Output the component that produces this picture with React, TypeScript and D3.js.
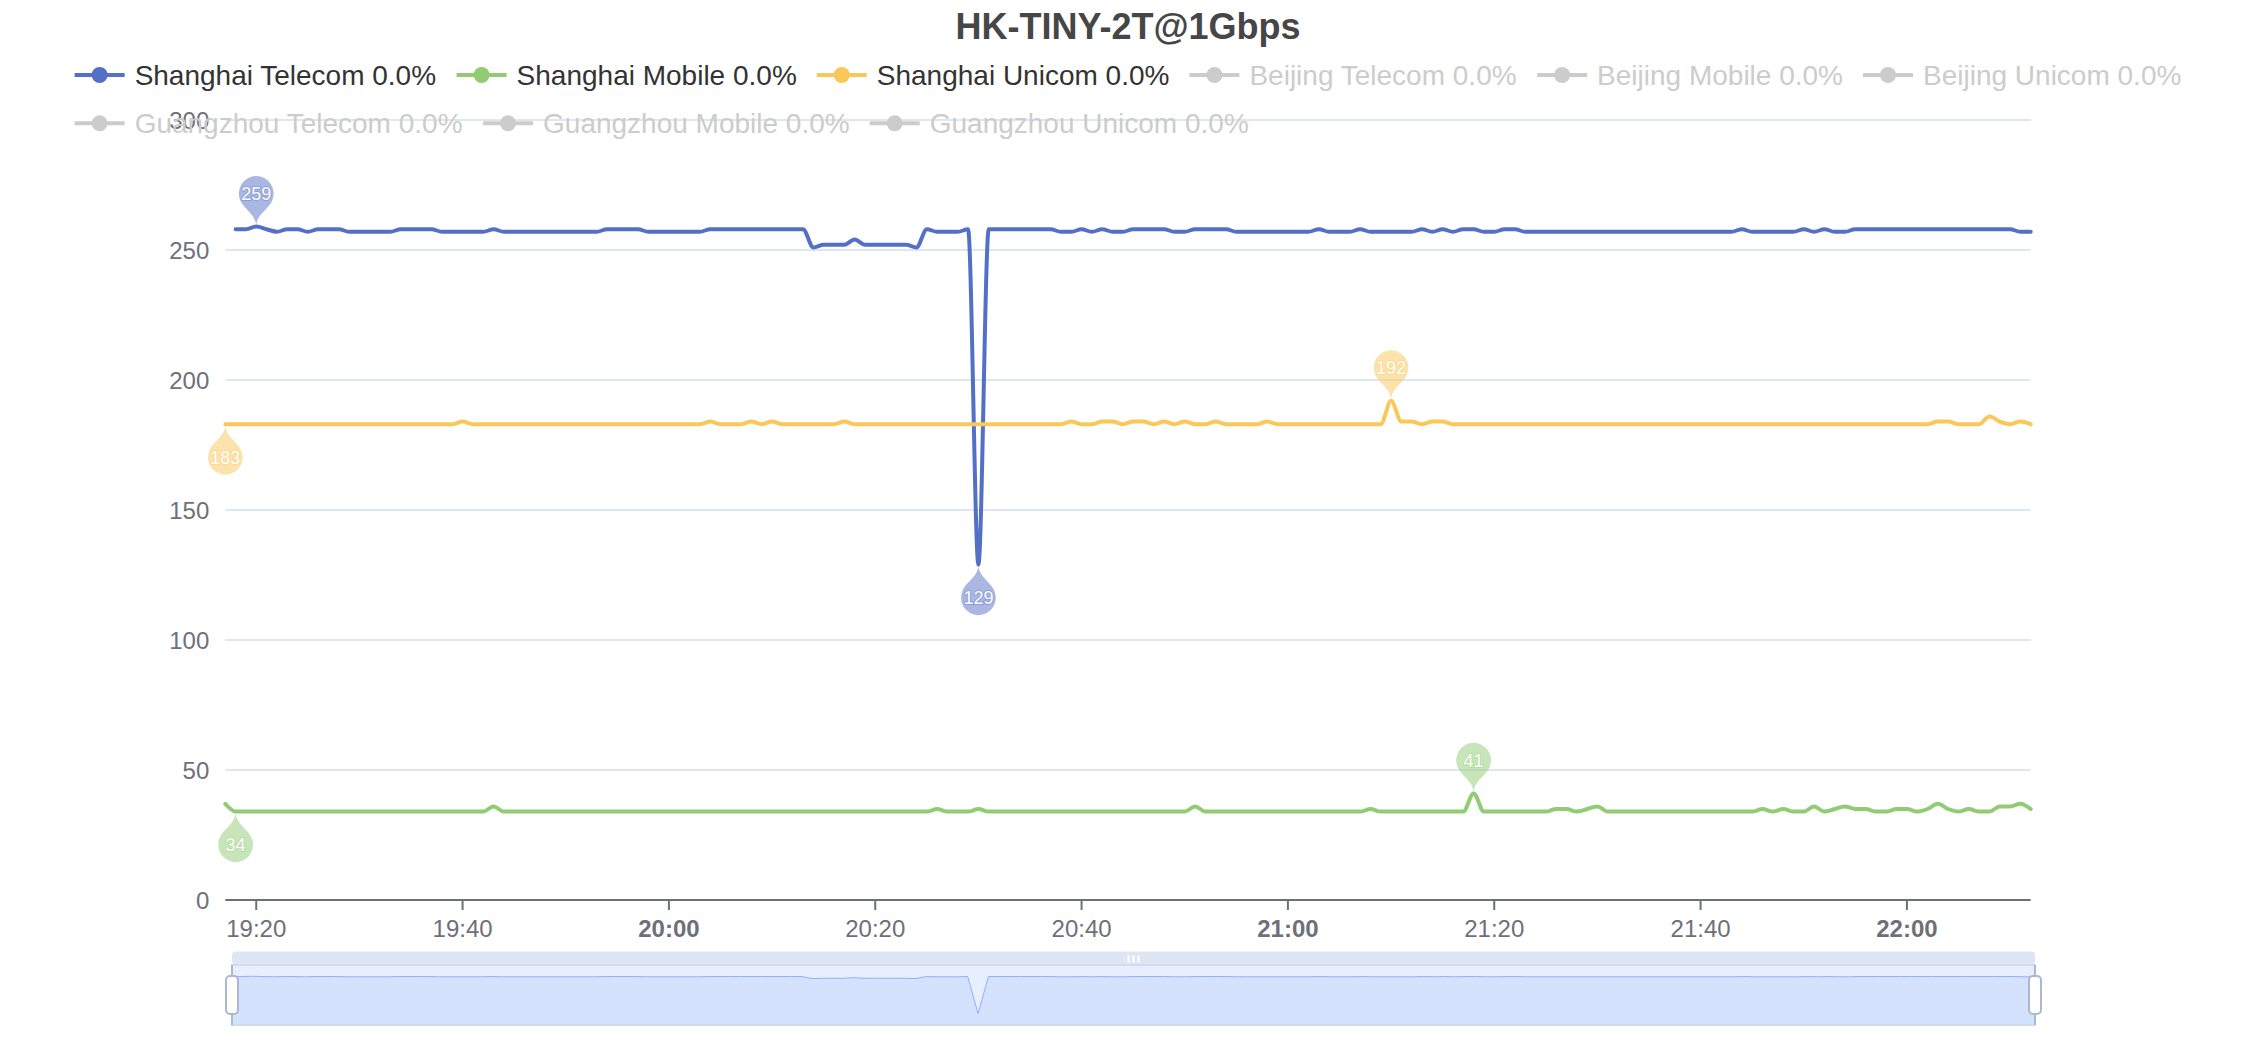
import React, { useMemo } from 'react';
import * as d3 from 'd3';

const TITLE = 'HK-TINY-2T@1Gbps';

const SERIES_NAMES = [
  'Shanghai Telecom', 'Shanghai Mobile', 'Shanghai Unicom',
  'Beijing Telecom', 'Beijing Mobile', 'Beijing Unicom',
  'Guangzhou Telecom', 'Guangzhou Mobile', 'Guangzhou Unicom',
];
const SERIES_LOSS = ['0.0%', '0.0%', '0.0%', '0.0%', '0.0%', '0.0%', '0.0%', '0.0%', '0.0%'];
const SERIES_SELECTED = [true, true, true, false, false, false, false, false, false];
const PALETTE = ['#5470c6', '#91cc75', '#fac858'];

// one sample per minute, 19:17 .. 22:12
const START_TIME = '2024-01-01T19:17:00';
const END_TIME = '2024-01-01T22:12:00';

const X_TICKS = ['19:20', '19:40', '20:00', '20:20', '20:40', '21:00', '21:20', '21:40', '22:00'];
const Y_TICKS = [0, 50, 100, 150, 200, 250, 300];

// Shanghai Telecom (ms)
const TELECOM: (number | null)[] = [
  null, 258, 258, 259, 258, 257, 258, 258, 257, 258,
  258, 258, 257, 257, 257, 257, 257, 258, 258, 258,
  258, 257, 257, 257, 257, 257, 258, 257, 257, 257,
  257, 257, 257, 257, 257, 257, 257, 258, 258, 258,
  258, 257, 257, 257, 257, 257, 257, 258, 258, 258,
  258, 258, 258, 258, 258, 258, 258, 251, 252, 252,
  252, 254, 252, 252, 252, 252, 252, 251, 258, 257,
  257, 257, 258, 129, 258, 258, 258, 258, 258, 258,
  258, 257, 257, 258, 257, 258, 257, 257, 258, 258,
  258, 258, 257, 257, 258, 258, 258, 258, 257, 257,
  257, 257, 257, 257, 257, 257, 258, 257, 257, 257,
  258, 257, 257, 257, 257, 257, 258, 257, 258, 257,
  258, 258, 257, 257, 258, 258, 257, 257, 257, 257,
  257, 257, 257, 257, 257, 257, 257, 257, 257, 257,
  257, 257, 257, 257, 257, 257, 257, 258, 257, 257,
  257, 257, 257, 258, 257, 258, 257, 257, 258, 258,
  258, 258, 258, 258, 258, 258, 258, 258, 258, 258,
  258, 258, 258, 258, 257, 257,
];

// Shanghai Mobile (ms)
const MOBILE: (number | null)[] = [
  37, 34, 34, 34, 34, 34, 34, 34, 34, 34,
  34, 34, 34, 34, 34, 34, 34, 34, 34, 34,
  34, 34, 34, 34, 34, 34, 36, 34, 34, 34,
  34, 34, 34, 34, 34, 34, 34, 34, 34, 34,
  34, 34, 34, 34, 34, 34, 34, 34, 34, 34,
  34, 34, 34, 34, 34, 34, 34, 34, 34, 34,
  34, 34, 34, 34, 34, 34, 34, 34, 34, 35,
  34, 34, 34, 35, 34, 34, 34, 34, 34, 34,
  34, 34, 34, 34, 34, 34, 34, 34, 34, 34,
  34, 34, 34, 34, 36, 34, 34, 34, 34, 34,
  34, 34, 34, 34, 34, 34, 34, 34, 34, 34,
  34, 35, 34, 34, 34, 34, 34, 34, 34, 34,
  34, 41, 34, 34, 34, 34, 34, 34, 34, 35,
  35, 34, 35, 36, 34, 34, 34, 34, 34, 34,
  34, 34, 34, 34, 34, 34, 34, 34, 34, 35,
  34, 35, 34, 34, 36, 34, 35, 36, 35, 35,
  34, 34, 35, 35, 34, 35, 37, 35, 34, 35,
  34, 34, 36, 36, 37, 35,
];

// Shanghai Unicom (ms)
const UNICOM: (number | null)[] = [
  183, 183, 183, 183, 183, 183, 183, 183, 183, 183,
  183, 183, 183, 183, 183, 183, 183, 183, 183, 183,
  183, 183, 183, 184, 183, 183, 183, 183, 183, 183,
  183, 183, 183, 183, 183, 183, 183, 183, 183, 183,
  183, 183, 183, 183, 183, 183, 183, 184, 183, 183,
  183, 184, 183, 184, 183, 183, 183, 183, 183, 183,
  184, 183, 183, 183, 183, 183, 183, 183, 183, 183,
  183, 183, 183, 183, 183, 183, 183, 183, 183, 183,
  183, 183, 184, 183, 183, 184, 184, 183, 184, 184,
  183, 184, 183, 184, 183, 183, 184, 183, 183, 183,
  183, 184, 183, 183, 183, 183, 183, 183, 183, 183,
  183, 183, 183, 192, 184, 184, 183, 184, 184, 183,
  183, 183, 183, 183, 183, 183, 183, 183, 183, 183,
  183, 183, 183, 183, 183, 183, 183, 183, 183, 183,
  183, 183, 183, 183, 183, 183, 183, 183, 183, 183,
  183, 183, 183, 183, 183, 183, 183, 183, 183, 183,
  183, 183, 183, 183, 183, 183, 184, 184, 183, 183,
  183, 186, 184, 183, 184, 183,
];

const SERIES_DATA = [TELECOM, MOBILE, UNICOM];

const W = 2256;
const H = 1040;
const FONT = '"Liberation Sans", Arial, Helvetica, sans-serif';
const GRID = { left: 225.3, right: 2030.7, top: 120, bottom: 900 };
const SLIDER = { left: 232, right: 2035, top: 965, bottom: 1025, handleTop: 951.5 };
const PIN_SIZE = 58;

// echarts "pin" symbol, tip at (0,0), head up
function pinPath(s: number) {
  const w = s * 0.6;
  const h = Math.max(w, s);
  const r = w / 2;
  const dy = (r * r) / (h - r);
  const cy = -h + r + dy;
  const a = Math.asin(dy / r);
  const dx = Math.cos(a) * r;
  const tx = Math.sin(a);
  const ty = Math.cos(a);
  const cp = r * 0.6;
  const cp2 = r * 0.7;
  return `M${-dx},${cy + dy} A${r},${r} 0 1 1 ${dx},${cy + dy} ` +
    `C${dx - tx * cp},${cy + dy + ty * cp} 0,${-cp2} 0,0 ` +
    `C0,${-cp2} ${-dx + tx * cp},${cy + dy + ty * cp} ${-dx},${cy + dy} Z`;
}
const PIN_CENTER = -(PIN_SIZE - PIN_SIZE * 0.3 - (0.09 * PIN_SIZE * PIN_SIZE) / (0.7 * PIN_SIZE));

const App: React.FC = () => {
  const start = new Date(START_TIME);
  const end = new Date(END_TIME);
  const times = d3.timeMinute.range(start, d3.timeMinute.offset(end, 1));

  const x = d3.scaleTime().domain([start, end]).range([GRID.left, GRID.right]);
  const y = d3.scaleLinear().domain([0, 300]).range([GRID.bottom, GRID.top]);

  const line = d3.line<number | null>()
    .defined(v => v != null)
    .x((_, i) => x(times[i]))
    .y(v => y(v as number))
    .curve(d3.curveMonotoneX);

  const tickDates = X_TICKS.map(t => {
    const [hh, mm] = t.split(':').map(Number);
    const d = new Date(start);
    d.setHours(hh, mm, 0, 0);
    return d;
  });

  // legend layout (echarts style: wrap rows, whole block centred, rows left aligned)
  const legend = useMemo(() => {
    const ctx = document.createElement('canvas').getContext('2d')!;
    ctx.font = `28px ${FONT}`;
    const items = SERIES_NAMES.map((n, i) => {
      const label = `${n} ${SERIES_LOSS[i]}`;
      return { label, i, w: 60 + ctx.measureText(label).width };
    });
    const rows: { label: string; i: number; w: number; x: number }[][] = [];
    let row: { label: string; i: number; w: number; x: number }[] = [];
    let cx = 0;
    items.forEach(it => {
      if (row.length && cx + it.w > W - 20) {
        rows.push(row);
        row = [];
        cx = 0;
      }
      row.push({ ...it, x: cx });
      cx += it.w + 20;
    });
    rows.push(row);
    const widths = rows.map(r => r[r.length - 1].x + r[r.length - 1].w);
    const left = (W - Math.max(...widths)) / 2;
    return rows.map((r, ri) => r.map(it => ({ ...it, x: it.x + left, y: 75 + ri * 48.3 })));
  }, []);

  // data zoom shadow from first series, spaced by index
  const shadowVals = TELECOM.filter(v => v != null) as number[];
  const [sMin, sMax] = d3.extent(shadowVals) as [number, number];
  const off = (sMax - sMin) * 0.3;
  const sx = d3.scaleLinear().domain([0, shadowVals.length - 1]).range([SLIDER.left, SLIDER.right]);
  const sy = d3.scaleLinear().domain([sMin - off, sMax + off]).range([SLIDER.bottom, SLIDER.top]);
  const shadowArea = d3.area<number>().x((_, i) => sx(i)).y0(SLIDER.bottom).y1(v => sy(v))(shadowVals) || '';
  const shadowLine = d3.line<number>().x((_, i) => sx(i)).y(v => sy(v))(shadowVals) || '';

  const pin = pinPath(PIN_SIZE);
  const sliderMid = (SLIDER.left + SLIDER.right) / 2;
  const sliderCy = (SLIDER.top + SLIDER.bottom) / 2;

  return (
    <svg width={W} height={H} style={{ position: 'absolute', left: 0, top: 0, background: '#fff' }}
      fontFamily={FONT}>
      {/* title */}
      <text x={W / 2} y={39} textAnchor="middle" fontSize={36} fontWeight="bold" fill="#464646">{TITLE}</text>

      {/* grid */}
      {Y_TICKS.map(t => (
        <g key={t}>
          {t > 0 && <line x1={GRID.left} x2={GRID.right} y1={y(t)} y2={y(t)} stroke="#e0e6f1" strokeWidth={2} />}
          <text x={GRID.left - 16} y={y(t) + 8.5} textAnchor="end" fontSize={24} fill="#6e7079">{t}</text>
        </g>
      ))}

      {/* x axis */}
      <line x1={GRID.left} x2={GRID.right} y1={GRID.bottom} y2={GRID.bottom} stroke="#6e7079" strokeWidth={2} />
      {tickDates.map((d, i) => (
        <g key={i}>
          <line x1={x(d)} x2={x(d)} y1={GRID.bottom} y2={GRID.bottom + 10} stroke="#6e7079" strokeWidth={2} />
          <text x={x(d)} y={937} textAnchor="middle" fontSize={24} fill="#6e7079"
            fontWeight={d.getMinutes() === 0 ? 'bold' : 'normal'}>{X_TICKS[i]}</text>
        </g>
      ))}

      {/* series */}
      {SERIES_DATA.map((data, si) => (
        <path key={si} d={line(data) || ''} fill="none" stroke={PALETTE[si]} strokeWidth={4}
          strokeLinejoin="round" strokeLinecap="round" />
      ))}

      {/* mark points: max (pin up) and min (pin flipped) */}
      {SERIES_DATA.map((data, si) => {
        const vals = data.map(v => (v == null ? NaN : v));
        const iMax = d3.maxIndex(vals);
        const iMin = d3.minIndex(vals);
        return [{ i: iMax, flip: false }, { i: iMin, flip: true }].map(({ i, flip }) => {
          const px = x(times[i]);
          const py = y(data[i] as number);
          const ly = py + (flip ? -PIN_CENTER : PIN_CENTER);
          return (
            <g key={`${si}-${flip}`}>
              <path d={pin} transform={`translate(${px},${py})${flip ? ' rotate(180)' : ''}`}
                fill={PALETTE[si]} fillOpacity={0.5} />
              <text x={px} y={ly + 6.5} textAnchor="middle" fontSize={18} fill="#fff"
                stroke={PALETTE[si]} strokeOpacity={0.35} strokeWidth={2} paintOrder="stroke">
                {Math.round(data[i] as number)}
              </text>
            </g>
          );
        });
      })}

      {/* legend */}
      {legend.flat().map(it => {
        const on = SERIES_SELECTED[it.i];
        const c = on ? PALETTE[it.i] : '#ccc';
        return (
          <g key={it.i}>
            <line x1={it.x} x2={it.x + 50} y1={it.y} y2={it.y} stroke={c} strokeWidth={4} />
            <circle cx={it.x + 25} cy={it.y} r={8} fill={c} />
            <text x={it.x + 60} y={it.y + 10} fontSize={28} fill={on ? '#333' : '#ccc'}>{it.label}</text>
          </g>
        );
      })}

      {/* data zoom slider */}
      <rect x={SLIDER.left} y={SLIDER.handleTop} width={SLIDER.right - SLIDER.left} height={SLIDER.top - SLIDER.handleTop}
        rx={4} fill="#D2DBEE" fillOpacity={0.7} />
      {[-5, 0, 5].map(d => (
        <rect key={d} x={sliderMid + d - 1} y={955.5} width={2} height={7} fill="#fff" />
      ))}
      <rect x={SLIDER.left} y={SLIDER.top} width={SLIDER.right - SLIDER.left} height={SLIDER.bottom - SLIDER.top}
        fill="rgba(135,175,255,0.2)" />
      <path d={shadowArea} fill="#8fb0f7" fillOpacity={0.2} />
      <path d={shadowLine} fill="none" stroke="#8fb0f7" strokeWidth={1} />
      <rect x={SLIDER.left} y={SLIDER.top} width={SLIDER.right - SLIDER.left} height={SLIDER.bottom - SLIDER.top}
        fill="none" stroke="#d2dbee" strokeWidth={2} />
      {[SLIDER.left, SLIDER.right].map(hx => (
        <g key={hx}>
          <line x1={hx} x2={hx} y1={SLIDER.top} y2={SLIDER.bottom} stroke="#ACB8D1" strokeWidth={2} />
          <rect x={hx - 6} y={sliderCy - 19} width={12} height={38} rx={4} fill="#fff" stroke="#ACB8D1" strokeWidth={2} />
        </g>
      ))}
    </svg>
  );
};

export default App;
